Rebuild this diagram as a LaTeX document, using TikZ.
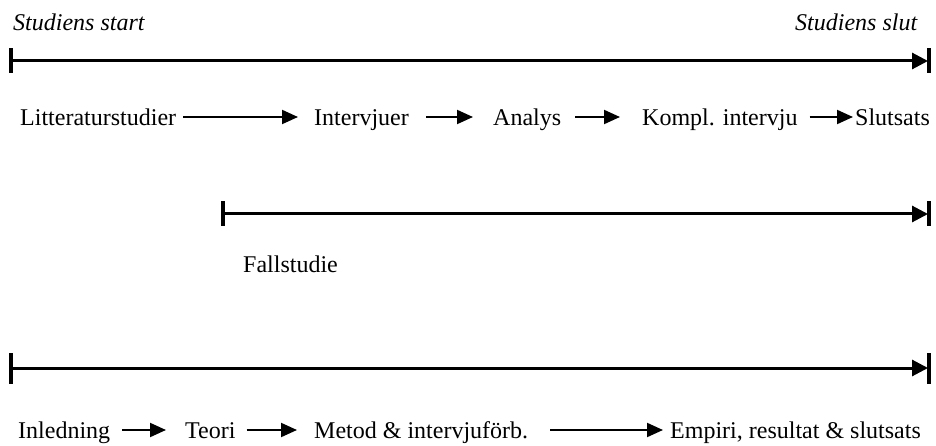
\documentclass[tikz,border=0pt]{standalone}
\usepackage{fontspec}
\setmainfont{Liberation Serif}
\usetikzlibrary{arrows.meta}
\begin{document}
\begin{tikzpicture}[x=1pt,y=-1pt,
  lbl/.style={inner sep=0pt,anchor=base west,font=\fontsize{24}{28}\selectfont},
  timeline/.style={line width=3pt,-{Triangle[length=16pt,width=16pt]}},
  endbar/.style={line width=4pt},
  flow/.style={line width=2pt,-{Triangle[length=16pt,width=14pt]}}]
\useasboundingbox (0,0) rectangle (936,446);

% time axis labels
\node[lbl,font=\fontsize{24}{28}\selectfont\itshape] (start) at (13,31) {Studiens start};
\node[lbl,font=\fontsize{24}{28}\selectfont\itshape] (slut) at (795,31) {Studiens slut};

% first timeline
\coordinate (a1) at (11,61);
\coordinate (a2) at (929,61);
\draw[endbar] (11,48.5) -- (11,73.5);
\draw[endbar] (929,48.5) -- (929,73.5);
\draw[timeline] (a1) -- ([xshift=-1pt]a2);

% first row of steps
\node[lbl] (lit) at (20,126) {Litteraturstudier};
\node[lbl] (int) at (314,126) {Intervjuer};
\node[lbl] (ana) at (493,126) {Analys};
\node[lbl] (kom) at (642,126) {Kompl. intervju};
\node[lbl] (sl)  at (855,126) {Slutsats};
\draw[flow] ([xshift=7pt,yshift=9pt]lit.base east) -- ([xshift=-16pt,yshift=9pt]int.base west);
\draw[flow] ([xshift=17pt,yshift=9pt]int.base east) -- ([xshift=-20pt,yshift=9pt]ana.base west);
\draw[flow] ([xshift=14pt,yshift=9pt]ana.base east) -- ([xshift=-22pt,yshift=9pt]kom.base west);
\draw[flow] ([xshift=12pt,yshift=9pt]kom.base east) -- ([xshift=-2pt,yshift=9pt]sl.base west);

% second timeline
\coordinate (b1) at (223,214);
\coordinate (b2) at (929,214);
\draw[endbar] (223,201.5) -- (223,226.5);
\draw[endbar] (929,201.5) -- (929,226.5);
\draw[timeline] (b1) -- ([xshift=-1pt]b2);
\node[lbl] (fall) at (243,272) {Fallstudie};

% third timeline
\coordinate (c1) at (11,368);
\coordinate (c2) at (929,368);
\draw[endbar] (11,353) -- (11,384);
\draw[endbar] (929,353) -- (929,384);
\draw[timeline] (c1) -- ([xshift=-1pt]c2);

% second row of steps
\node[lbl] (inl) at (18,438) {Inledning};
\node[lbl] (teo) at (185,438) {Teori};
\node[lbl] (met) at (314,438) {Metod \& intervjuförb.};
\node[lbl] (emp) at (670,438) {Empiri, resultat \& slutsats};
\draw[flow] ([xshift=12pt,yshift=8pt]inl.base east) -- ([xshift=-19pt,yshift=8pt]teo.base west);
\draw[flow] ([xshift=11pt,yshift=8pt]teo.base east) -- ([xshift=-17pt,yshift=8pt]met.base west);
\draw[flow] ([xshift=22pt,yshift=8pt]met.base east) -- ([xshift=-7pt,yshift=8pt]emp.base west);
\end{tikzpicture}
\end{document}
